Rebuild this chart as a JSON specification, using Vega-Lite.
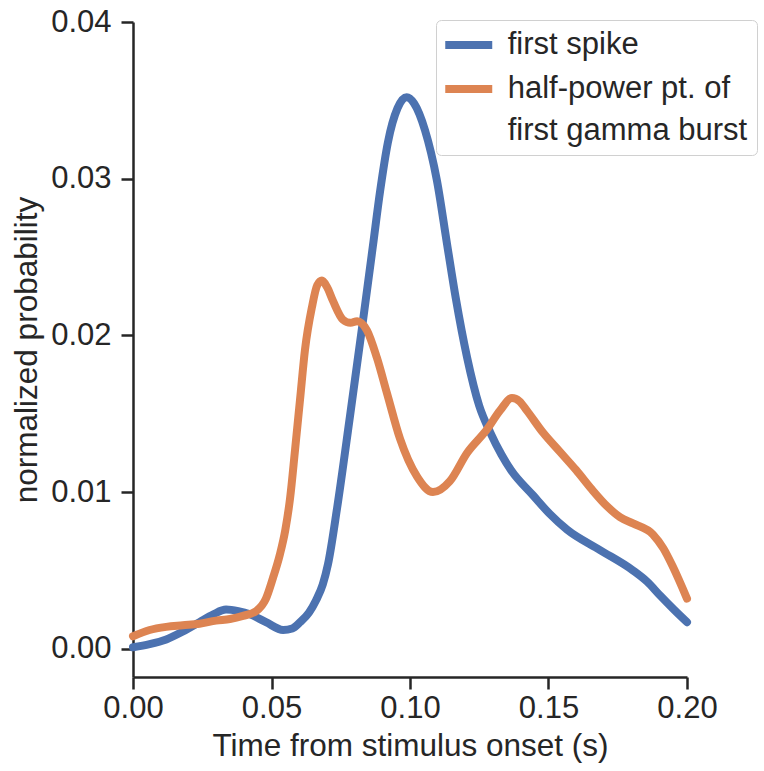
{
  "$schema": "https://vega.github.io/schema/vega-lite/v6.json",
  "autosize": "none",
  "padding": {"left": 133, "top": 22, "right": 77, "bottom": 94},
  "width": 554,
  "height": 655,
  "background": "white",
  "config": {
    "font": "Liberation Sans",
    "view": {"stroke": null},
    "style": {"guide-label": {"lineHeight": 42}},
    "axis": {
      "grid": false,
      "domainColor": "#262626",
      "domainWidth": 2.5,
      "tickColor": "#262626",
      "tickWidth": 2.5,
      "tickSize": 12,
      "labelFontSize": 31,
      "labelColor": "#262626",
      "titleFontSize": 31.5,
      "titleFontWeight": "normal",
      "titleColor": "#262626"
    },
    "legend": {
      "labelFontSize": 31,
      "labelColor": "#262626",
      "labelLimit": 400
    }
  },
  "data": {
    "values": [
      {"t": 0, "p": 0.0001, "series": "first spike"},
      {"t": 0.006, "p": 0.0003, "series": "first spike"},
      {"t": 0.012, "p": 0.0006, "series": "first spike"},
      {"t": 0.018, "p": 0.0011, "series": "first spike"},
      {"t": 0.024, "p": 0.0017, "series": "first spike"},
      {"t": 0.029, "p": 0.0022, "series": "first spike"},
      {"t": 0.0336, "p": 0.0025, "series": "first spike"},
      {"t": 0.038, "p": 0.0024, "series": "first spike"},
      {"t": 0.0422, "p": 0.0022, "series": "first spike"},
      {"t": 0.048, "p": 0.0017, "series": "first spike"},
      {"t": 0.0542, "p": 0.0012, "series": "first spike"},
      {"t": 0.0575, "p": 0.0013, "series": "first spike"},
      {"t": 0.0603, "p": 0.0017, "series": "first spike"},
      {"t": 0.0635, "p": 0.0023, "series": "first spike"},
      {"t": 0.0661, "p": 0.0031, "series": "first spike"},
      {"t": 0.0685, "p": 0.0041, "series": "first spike"},
      {"t": 0.0704, "p": 0.0054, "series": "first spike"},
      {"t": 0.0737, "p": 0.009, "series": "first spike"},
      {"t": 0.0783, "p": 0.0148, "series": "first spike"},
      {"t": 0.0827, "p": 0.0205, "series": "first spike"},
      {"t": 0.0866, "p": 0.0257, "series": "first spike"},
      {"t": 0.0892, "p": 0.0292, "series": "first spike"},
      {"t": 0.092, "p": 0.0323, "series": "first spike"},
      {"t": 0.0955, "p": 0.0345, "series": "first spike"},
      {"t": 0.0988, "p": 0.0352, "series": "first spike"},
      {"t": 0.1015, "p": 0.0348, "series": "first spike"},
      {"t": 0.1054, "p": 0.0331, "series": "first spike"},
      {"t": 0.1097, "p": 0.0299, "series": "first spike"},
      {"t": 0.1134, "p": 0.0258, "series": "first spike"},
      {"t": 0.1165, "p": 0.0224, "series": "first spike"},
      {"t": 0.1206, "p": 0.0186, "series": "first spike"},
      {"t": 0.125, "p": 0.0155, "series": "first spike"},
      {"t": 0.129, "p": 0.0138, "series": "first spike"},
      {"t": 0.133, "p": 0.0124, "series": "first spike"},
      {"t": 0.1365, "p": 0.0114, "series": "first spike"},
      {"t": 0.1444, "p": 0.0098, "series": "first spike"},
      {"t": 0.1505, "p": 0.0086, "series": "first spike"},
      {"t": 0.1567, "p": 0.0076, "series": "first spike"},
      {"t": 0.1686, "p": 0.0063, "series": "first spike"},
      {"t": 0.1805, "p": 0.005, "series": "first spike"},
      {"t": 0.1855, "p": 0.0043, "series": "first spike"},
      {"t": 0.1903, "p": 0.0034, "series": "first spike"},
      {"t": 0.1953, "p": 0.0025, "series": "first spike"},
      {"t": 0.2, "p": 0.0017, "series": "first spike"},
      {"t": 0, "p": 0.0008, "series": "half-power pt. of first gamma burst"},
      {"t": 0.006, "p": 0.0012, "series": "half-power pt. of first gamma burst"},
      {"t": 0.012, "p": 0.0014, "series": "half-power pt. of first gamma burst"},
      {"t": 0.018, "p": 0.0015, "series": "half-power pt. of first gamma burst"},
      {"t": 0.024, "p": 0.0016, "series": "half-power pt. of first gamma burst"},
      {"t": 0.03, "p": 0.0018, "series": "half-power pt. of first gamma burst"},
      {"t": 0.035, "p": 0.0019, "series": "half-power pt. of first gamma burst"},
      {"t": 0.0397, "p": 0.0021, "series": "half-power pt. of first gamma burst"},
      {"t": 0.0444, "p": 0.0024, "series": "half-power pt. of first gamma burst"},
      {"t": 0.048, "p": 0.0032, "series": "half-power pt. of first gamma burst"},
      {"t": 0.0505, "p": 0.0045, "series": "half-power pt. of first gamma burst"},
      {"t": 0.053, "p": 0.006, "series": "half-power pt. of first gamma burst"},
      {"t": 0.055, "p": 0.0076, "series": "half-power pt. of first gamma burst"},
      {"t": 0.0567, "p": 0.0096, "series": "half-power pt. of first gamma burst"},
      {"t": 0.0585, "p": 0.0127, "series": "half-power pt. of first gamma burst"},
      {"t": 0.0603, "p": 0.0159, "series": "half-power pt. of first gamma burst"},
      {"t": 0.0621, "p": 0.0191, "series": "half-power pt. of first gamma burst"},
      {"t": 0.0646, "p": 0.0218, "series": "half-power pt. of first gamma burst"},
      {"t": 0.0665, "p": 0.0232, "series": "half-power pt. of first gamma burst"},
      {"t": 0.0682, "p": 0.0235, "series": "half-power pt. of first gamma burst"},
      {"t": 0.07, "p": 0.0231, "series": "half-power pt. of first gamma burst"},
      {"t": 0.0722, "p": 0.0222, "series": "half-power pt. of first gamma burst"},
      {"t": 0.0758, "p": 0.021, "series": "half-power pt. of first gamma burst"},
      {"t": 0.0785, "p": 0.0208, "series": "half-power pt. of first gamma burst"},
      {"t": 0.0809, "p": 0.0209, "series": "half-power pt. of first gamma burst"},
      {"t": 0.0845, "p": 0.0203, "series": "half-power pt. of first gamma burst"},
      {"t": 0.088, "p": 0.0186, "series": "half-power pt. of first gamma burst"},
      {"t": 0.0917, "p": 0.0163, "series": "half-power pt. of first gamma burst"},
      {"t": 0.0964, "p": 0.0134, "series": "half-power pt. of first gamma burst"},
      {"t": 0.1025, "p": 0.011, "series": "half-power pt. of first gamma burst"},
      {"t": 0.1083, "p": 0.01, "series": "half-power pt. of first gamma burst"},
      {"t": 0.1144, "p": 0.0107, "series": "half-power pt. of first gamma burst"},
      {"t": 0.1206, "p": 0.0125, "series": "half-power pt. of first gamma burst"},
      {"t": 0.1278, "p": 0.014, "series": "half-power pt. of first gamma burst"},
      {"t": 0.1325, "p": 0.0152, "series": "half-power pt. of first gamma burst"},
      {"t": 0.1368, "p": 0.016, "series": "half-power pt. of first gamma burst"},
      {"t": 0.1395, "p": 0.0158, "series": "half-power pt. of first gamma burst"},
      {"t": 0.1422, "p": 0.0152, "series": "half-power pt. of first gamma burst"},
      {"t": 0.148, "p": 0.0138, "series": "half-power pt. of first gamma burst"},
      {"t": 0.154, "p": 0.0126, "series": "half-power pt. of first gamma burst"},
      {"t": 0.16, "p": 0.0114, "series": "half-power pt. of first gamma burst"},
      {"t": 0.1655, "p": 0.0102, "series": "half-power pt. of first gamma burst"},
      {"t": 0.1711, "p": 0.0091, "series": "half-power pt. of first gamma burst"},
      {"t": 0.1758, "p": 0.0084, "series": "half-power pt. of first gamma burst"},
      {"t": 0.1805, "p": 0.008, "series": "half-power pt. of first gamma burst"},
      {"t": 0.1877, "p": 0.0073, "series": "half-power pt. of first gamma burst"},
      {"t": 0.1915, "p": 0.0064, "series": "half-power pt. of first gamma burst"},
      {"t": 0.195, "p": 0.0052, "series": "half-power pt. of first gamma burst"},
      {"t": 0.2, "p": 0.0032, "series": "half-power pt. of first gamma burst"}
    ]
  },
  "mark": {"type": "line", "strokeWidth": 8, "strokeCap": "round", "strokeJoin": "round", "interpolate": "monotone"},
  "encoding": {
    "x": {
      "field": "t", "type": "quantitative",
      "scale": {"domain": [0, 0.2], "nice": false, "zero": false},
      "axis": {"values": [0, 0.05, 0.1, 0.15, 0.2], "format": ".2f", "title": "Time from stimulus onset (s)", "labelFlush": false, "labelPadding": 4, "titlePadding": 7}
    },
    "y": {
      "field": "p", "type": "quantitative",
      "scale": {"domain": [-0.0018, 0.04], "nice": false, "zero": false},
      "axis": {"values": [0, 0.01, 0.02, 0.03, 0.04], "format": ".2f", "title": "normalized probability", "labelPadding": 10, "titlePadding": 7}
    },
    "color": {
      "field": "series", "type": "nominal",
      "scale": {"domain": ["first spike", "half-power pt. of first gamma burst"], "range": ["#4C72B0", "#DD8452"]},
      "legend": {
        "title": null,
        "orient": "none",
        "legendX": 303,
        "legendY": -2,
        "symbolType": "M-2,0H2",
        "symbolSize": 552,
        "symbolStrokeWidth": 8,
        "symbolOffset": 7.75,
        "labelOffset": 23,
        "rowPadding": 12,
        "padding": 9,
        "strokeColor": "#d0d0d0",
        "fillColor": "rgba(255,255,255,0.8)",
        "cornerRadius": 5,
        "labelExpr": "datum.label == 'half-power pt. of first gamma burst' ? ['half-power pt. of', 'first gamma burst'] : datum.label"
      }
    }
  }
}
